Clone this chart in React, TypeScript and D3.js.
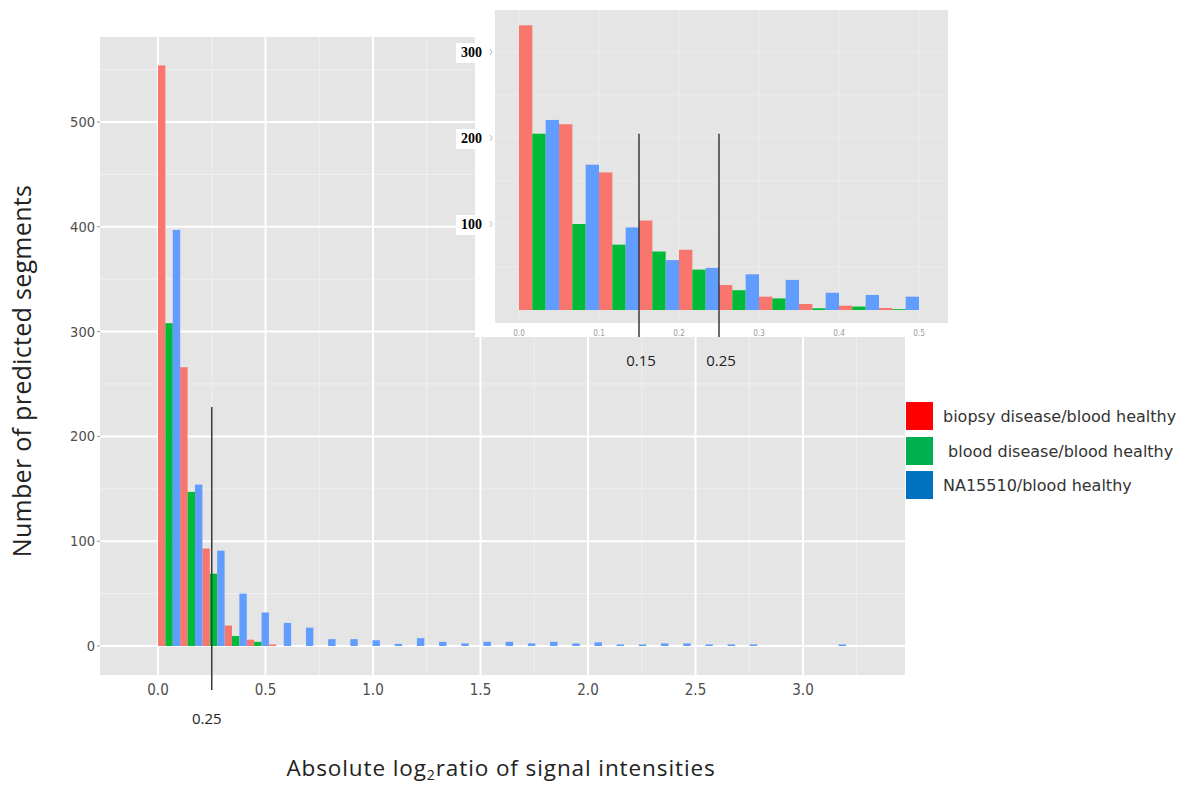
import * as d3 from "d3";

// series
const seriesNames = [
  "biopsy disease/blood healthy",
  " blood disease/blood healthy",
  "NA15510/blood healthy",
];
const barColors = ["#F8766D", "#00BA38", "#619CFF"];
const legendColors = ["#FF0000", "#00B050", "#0070C0"];

// main histogram: bins of 0.1
const mainBins = [
  0.0, 0.1, 0.2, 0.3, 0.4, 0.5, 0.6, 0.7, 0.8, 0.9, 1.0, 1.1, 1.2, 1.3, 1.4, 1.5,
  1.6, 1.7, 1.8, 1.9, 2.0, 2.1, 2.2, 2.3, 2.4, 2.5, 2.6, 2.7, 2.8, 2.9, 3.0,
];
const mainBiopsy = [
  554, 266, 93, 19.5, 6, 1.5, 0, 0, 0, 0, 0, 0, 0, 0, 0, 0,
  0, 0, 0, 0, 0, 0, 0, 0, 0, 0, 0, 0, 0, 0, 0,
];
const mainBlood = [
  308, 147, 69, 9.5, 4, 0, 0, 0, 0, 0, 0, 0, 0, 0, 0, 0,
  0, 0, 0, 0, 0, 0, 0, 0, 0, 0, 0, 0, 0, 0, 0,
];
const mainNA = [
  397, 154, 91, 50, 32, 22, 17.5, 6.5, 6.5, 5.5, 2, 7.5, 4, 2.5, 4, 4,
  2.5, 4, 2.5, 3.5, 1.5, 1.5, 2.5, 2.5, 1.5, 1.5, 1.5, 0, 0, 0, 1.5,
];
const mainXTicks = [0, 0.5, 1.0, 1.5, 2.0, 2.5, 3.0];
const mainYTicks = [0, 100, 200, 300, 400, 500];
const mainCutoff = 0.25;

// inset: bins of 0.05
const insetBins = [0.0, 0.05, 0.1, 0.15, 0.2, 0.25, 0.3, 0.35, 0.4, 0.45];
const insetBiopsy = [331, 216, 160, 104, 70, 29, 15.5, 7, 5, 2.3];
const insetBlood = [205, 100, 76, 68, 47, 23, 13.5, 2, 4, 1];
const insetNA = [221, 169, 96, 58, 49, 41.5, 35, 20, 17.5, 15.5];
const insetXTicks = [0, 0.1, 0.2, 0.3, 0.4, 0.5];
const insetYTicks = [100, 200, 300];
const insetCutoffs = [0.15, 0.25];

const W = 1186;
const H = 785;
const panel = { left: 100, right: 905, top: 37, bottom: 675 };
const inset = { left: 495, right: 948, top: 10, bottom: 323, boxLeft: 475, boxBottom: 337 };

const tickFont = "'DejaVu Sans Condensed', 'DejaVu Sans', sans-serif";
const legendFont = "'DejaVu Sans', sans-serif";
const titleFont = "'Open Sans', 'Noto Sans', sans-serif";

export default function App() {
  const x = d3.scaleLinear().domain([0, 3]).range([158, 803]);
  const xBin = d3
    .scaleBand()
    .domain(mainBins.map(String))
    .range([x(0), x(3.2)]);
  const xSub = d3.scaleBand().domain(["0", "1", "2"]).range([0, xBin.bandwidth()]);
  const y = d3.scaleLinear().domain([0, 500]).range([646, 122]);

  const xIn = d3.scaleLinear().domain([0, 0.5]).range([519, 919]);
  const yIn = d3.scaleLinear().domain([0, 300]).range([310, 52]);
  const inBinW = xIn(0.05) - xIn(0);
  const xSubIn = d3.scaleBand().domain(["0", "1", "2"]).range([0, inBinW]);

  const mainSeries = [mainBiopsy, mainBlood, mainNA];
  const insetSeries = [insetBiopsy, insetBlood, insetNA];

  const minorX = [0.25, 0.75, 1.25, 1.75, 2.25, 2.75, 3.25];
  const minorY = [50, 150, 250, 350, 450, 550];

  return (
    <svg
      width={W}
      height={H}
      style={{ position: "absolute", left: 0, top: 0, background: "#fff" }}
    >
      {/* main panel */}
      <rect
        x={panel.left}
        y={panel.top}
        width={panel.right - panel.left}
        height={panel.bottom - panel.top}
        fill="#E5E5E5"
      />
      {minorY.map((v) => (
        <line key={"my" + v} x1={panel.left} x2={panel.right} y1={y(v)} y2={y(v)} stroke="#F0F0F0" strokeWidth={1} />
      ))}
      {minorX.map((v) => (
        <line key={"mx" + v} x1={x(v)} x2={x(v)} y1={panel.top} y2={panel.bottom} stroke="#F0F0F0" strokeWidth={1} />
      ))}
      {mainYTicks.map((v) => (
        <line key={"gy" + v} x1={panel.left} x2={panel.right} y1={y(v)} y2={y(v)} stroke="#fff" strokeWidth={2} />
      ))}
      {mainXTicks.map((v) => (
        <line key={"gx" + v} x1={x(v)} x2={x(v)} y1={panel.top} y2={panel.bottom} stroke="#fff" strokeWidth={2} />
      ))}

      {/* main bars */}
      {mainSeries.map((vals, s) =>
        vals.map((v, i) =>
          v > 0 ? (
            <rect
              key={"b" + s + "-" + i}
              x={(xBin(String(mainBins[i])) as number) + (xSub(String(s)) as number)}
              y={y(v)}
              width={xSub.bandwidth()}
              height={y(0) - y(v)}
              fill={barColors[s]}
            />
          ) : null
        )
      )}

      {/* main axes */}
      {mainYTicks.map((v) => (
        <g key={"yt" + v}>
          <line x1={panel.left - 3} x2={panel.left} y1={y(v)} y2={y(v)} stroke="#999" />
          <text
            x={panel.left - 5}
            y={y(v)}
            dy="0.35em"
            textAnchor="end"
            fontFamily={tickFont}
            fontSize={14.5}
            fill="#4D4D4D"
          >
            {v}
          </text>
        </g>
      ))}
      {mainXTicks.map((v) => (
        <text
          key={"xt" + v}
          x={x(v)}
          y={695}
          textAnchor="middle"
          fontFamily={tickFont}
          fontSize={15}
          fill="#4D4D4D"
        >
          {v.toFixed(1)}
        </text>
      ))}

      {/* main cutoff */}
      <line x1={x(mainCutoff)} x2={x(mainCutoff)} y1={y(228)} y2={690} stroke="#3A3A3A" strokeWidth={1.5} />
      <text x={x(mainCutoff) - 5} y={724} textAnchor="middle" fontFamily={titleFont} fontSize={15} fill="#222">
        {mainCutoff}
      </text>

      {/* axis titles */}
      <text
        transform={`translate(31, 371) rotate(-90)`}
        textAnchor="middle"
        fontFamily={titleFont}
        fontSize={25}
        letterSpacing={0.3}
        fill="#222"
      >
        Number of predicted segments
      </text>
      <text x={501} y={776} textAnchor="middle" fontFamily={titleFont} fontSize={22.5} letterSpacing={0.9} fill="#222">
        Absolute log
        <tspan fontSize={14} dy={4}>2</tspan>
        <tspan dy={-4}>ratio of signal intensities</tspan>
      </text>

      {/* inset */}
      <rect x={inset.boxLeft} y={0} width={inset.right - inset.boxLeft} height={inset.boxBottom} fill="#fff" />
      <rect
        x={inset.left}
        y={inset.top}
        width={inset.right - inset.left}
        height={inset.bottom - inset.top}
        fill="#E5E5E5"
      />
      {[50, 100, 150, 200, 250, 300].map((v) => (
        <line key={"iy" + v} x1={inset.left} x2={inset.right} y1={yIn(v)} y2={yIn(v)} stroke="#ECECEC" strokeWidth={1} />
      ))}
      {insetXTicks.map((v) => (
        <line key={"ix" + v} x1={xIn(v)} x2={xIn(v)} y1={inset.top} y2={inset.bottom} stroke="#ECECEC" strokeWidth={1} />
      ))}
      {insetSeries.map((vals, s) =>
        vals.map((v, i) => (
          <rect
            key={"ib" + s + "-" + i}
            x={xIn(insetBins[i]) + (xSubIn(String(s)) as number)}
            y={yIn(v)}
            width={xSubIn.bandwidth()}
            height={yIn(0) - yIn(v)}
            fill={barColors[s]}
          />
        ))
      )}
      {insetYTicks.map((v) => (
        <g key={"iyt" + v}>
          <rect x={456} y={yIn(v) - 9} width={28} height={20} fill="#fff" />
          <text
            x={482}
            y={yIn(v)}
            dy="0.38em"
            textAnchor="end"
            fontFamily="'Liberation Serif', 'DejaVu Serif', serif"
            fontWeight="bold"
            fontSize={14}
            fill="#000"
          >
            {v}
          </text>
          <path
            d={`M${inset.left - 5},${yIn(v) - 3} L${inset.left - 3},${yIn(v)} L${inset.left - 5},${yIn(v) + 3}`}
            fill="none"
            stroke="#BBB"
            strokeWidth={1}
          />
        </g>
      ))}
      {insetXTicks.map((v) => (
        <text
          key={"ixt" + v}
          x={xIn(v)}
          y={336}
          textAnchor="middle"
          fontFamily={tickFont}
          fontSize={8}
          fill="#999"
        >
          {v.toFixed(1)}
        </text>
      ))}
      {insetCutoffs.map((v) => (
        <g key={"ic" + v}>
          <line x1={xIn(v)} x2={xIn(v)} y1={yIn(205)} y2={inset.boxBottom} stroke="#3A3A3A" strokeWidth={1.5} />
          <text x={xIn(v) + 2} y={366} textAnchor="middle" fontFamily={titleFont} fontSize={15} fill="#222">
            {v}
          </text>
        </g>
      ))}

      {/* legend */}
      {seriesNames.map((name, i) => {
        const top = [402, 437, 471][i];
        return (
          <g key={"lg" + i}>
            <rect x={906} y={top} width={27} height={28} fill={legendColors[i]} />
            <text
              x={943}
              y={top + 14}
              dy="0.35em"
              fontFamily={legendFont}
              fontSize={16}
              fill="#333"
              style={{ whiteSpace: "pre" }}
            >
              {name}
            </text>
          </g>
        );
      })}
    </svg>
  );
}
